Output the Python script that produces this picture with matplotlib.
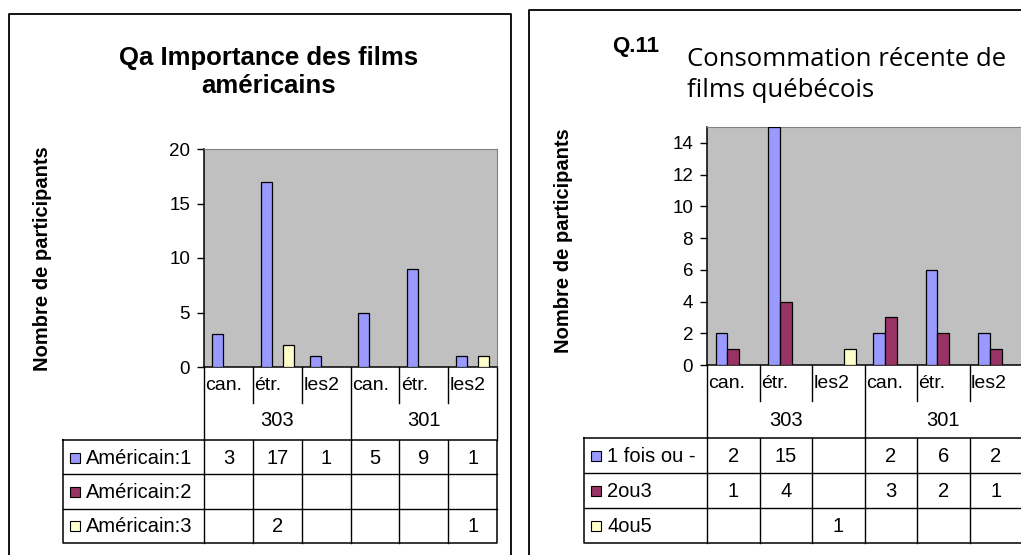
import numpy as np
import matplotlib.pyplot as plt

plt.rcParams['font.family'] = ['Liberation Sans', 'DejaVu Sans']

W, H = 1021, 555

groups = ['303', '301']
subcats = ['can.', 'étr.', 'les2']
colors = ['#9999FF', '#993366', '#FFFFCC']

# Qa Importance des films américains
qa_series = ['Américain:1', 'Américain:2', 'Américain:3']
qa_am1 = [3, 17, 1, 5, 9, 1]
qa_am2 = [None, None, None, None, None, None]
qa_am3 = [None, 2, None, None, None, 1]

# Q.11 Consommation récente de films québécois
q11_series = ['1 fois ou -', '2ou3', '4ou5']
q11_1fois = [2, 15, None, 2, 6, 2]
q11_2ou3 = [1, 4, None, 3, 2, 1]
q11_4ou5 = [None, None, 1, None, None, None]

FS = 14.5  # table / axis text size


def px_axes(fig, x0, y0, x1, y1):
    return fig.add_axes([x0 / W, 1 - y1 / H, (x1 - x0) / W, (y1 - y0) / H])


def draw_panel(fig, ov, series, values, lay):
    x0, x1 = lay['plot_x']
    y0, y1 = lay['plot_y']
    ncat = len(groups) * len(subcats)
    catw = (x1 - x0) / ncat

    # outer frame of the chart
    bx0, by0, bx1, by1 = lay['box']
    ov.plot([bx0, bx0, bx1, bx1], [by1, by0, by0, by1], color='black', lw=1.3)

    # bars
    ax = px_axes(fig, x0, y0, x1, y1)
    ax.set_facecolor('#C0C0C0')
    bw = 0.225
    for k, vals in enumerate(values):
        xs = [i + 0.5 + (k - 1) * bw for i, v in enumerate(vals) if v is not None]
        hs = [v for v in vals if v is not None]
        ax.bar(xs, hs, width=bw, color=colors[k], edgecolor='black', linewidth=0.9, zorder=3)
    ax.set_xlim(0, ncat)
    ax.set_ylim(0, lay['ymax'])
    ax.set_yticks(lay['yticks'])
    ax.set_xticks([])
    ax.tick_params(axis='y', direction='out', length=5, width=1, labelsize=13.5, pad=5)
    for s in ['top', 'right']:
        ax.spines[s].set_color('#808080')
    for s in ['left', 'bottom']:
        ax.spines[s].set_color('black')
        ax.spines[s].set_linewidth(1.1)

    # y label
    ov.text(lay['ylab'][0], lay['ylab'][1], 'Nombre de participants', rotation=90,
            ha='center', va='center', fontsize=14.5, fontweight='bold')

    # category axis
    tt = lay['table_top']
    sb = lay['short_bottom']
    for i in range(ncat + 1):
        xb = x0 + i * catw
        yb = tt if i % len(subcats) == 0 else sb
        ov.plot([xb, xb], [y1, yb], color='black', lw=1)
    for i in range(ncat):
        ov.text(x0 + i * catw + 1.5, lay['cat_y'], subcats[i % len(subcats)],
                ha='left', va='center', fontsize=14)
    for g, name in enumerate(groups):
        gc = x0 + (g + 0.5) * len(subcats) * catw
        ov.text(gc, lay['grp_y'], name, ha='center', va='center', fontsize=FS)

    # data table
    lx = lay['leg_x']
    tb = lay['table_bottom']
    rh = (tb - tt) / len(series)
    ov.plot([lx, x1, x1, lx, lx], [tt, tt, tb, tb, tt], color='black', lw=1.1)
    for r in range(1, len(series)):
        ov.plot([lx, x1], [tt + r * rh, tt + r * rh], color='black', lw=1)
    for i in range(ncat):
        xb = x0 + i * catw
        ov.plot([xb, xb], [tt, tb], color='black', lw=1)
    for r, name in enumerate(series):
        yc = tt + (r + 0.5) * rh
        ov.add_patch(plt.Rectangle((lx + 7, yc - 4.5), 10, 10, facecolor=colors[r],
                                   edgecolor='black', lw=0.8))
        ov.text(lx + 23, yc + 1, name, ha='left', va='center', fontsize=FS)
        for i, v in enumerate(values[r]):
            if v is not None:
                ov.text(x0 + (i + 0.5) * catw, yc + 1, str(v), ha='center', va='center',
                        fontsize=FS)


fig = plt.figure(figsize=(W / 100, H / 100), dpi=100)
ov = fig.add_axes([0, 0, 1, 1])
ov.set_xlim(0, W)
ov.set_ylim(H, 0)
ov.axis('off')

left = dict(box=(9, 14, 511, 560), plot_x=(204, 497), plot_y=(149, 367),
            ymax=20, yticks=np.arange(0, 21, 5), ylab=(42, 259),
            cat_y=386, short_bottom=403, grp_y=420, table_top=440,
            table_bottom=543, leg_x=63)
right = dict(box=(529, 10, 1040, 560), plot_x=(707, 1022), plot_y=(127, 365),
             ymax=15, yticks=np.arange(0, 15, 2), ylab=(563, 241),
             cat_y=384, short_bottom=401, grp_y=420, table_top=438,
             table_bottom=543, leg_x=584)

draw_panel(fig, ov, qa_series, [qa_am1, qa_am2, qa_am3], left)
draw_panel(fig, ov, q11_series, [q11_1fois, q11_2ou3, q11_4ou5], right)

# titles
ov.text(269, 65, 'Qa Importance des films', ha='center', va='baseline',
        fontsize=18.5, fontweight='bold')
ov.text(269, 93, 'américains', ha='center', va='baseline',
        fontsize=18.5, fontweight='bold')
ov.text(612, 52, 'Q.11', ha='left', va='baseline', fontsize=16, fontweight='bold')
ov.text(687, 66, 'Consommation récente de', ha='left', va='baseline',
        fontsize=18.5, family=['Open Sans', 'DejaVu Sans'])
ov.text(687, 97, 'films québécois', ha='left', va='baseline',
        fontsize=18.5, family=['Open Sans', 'DejaVu Sans'])

fig.savefig('out.png', dpi=100)
